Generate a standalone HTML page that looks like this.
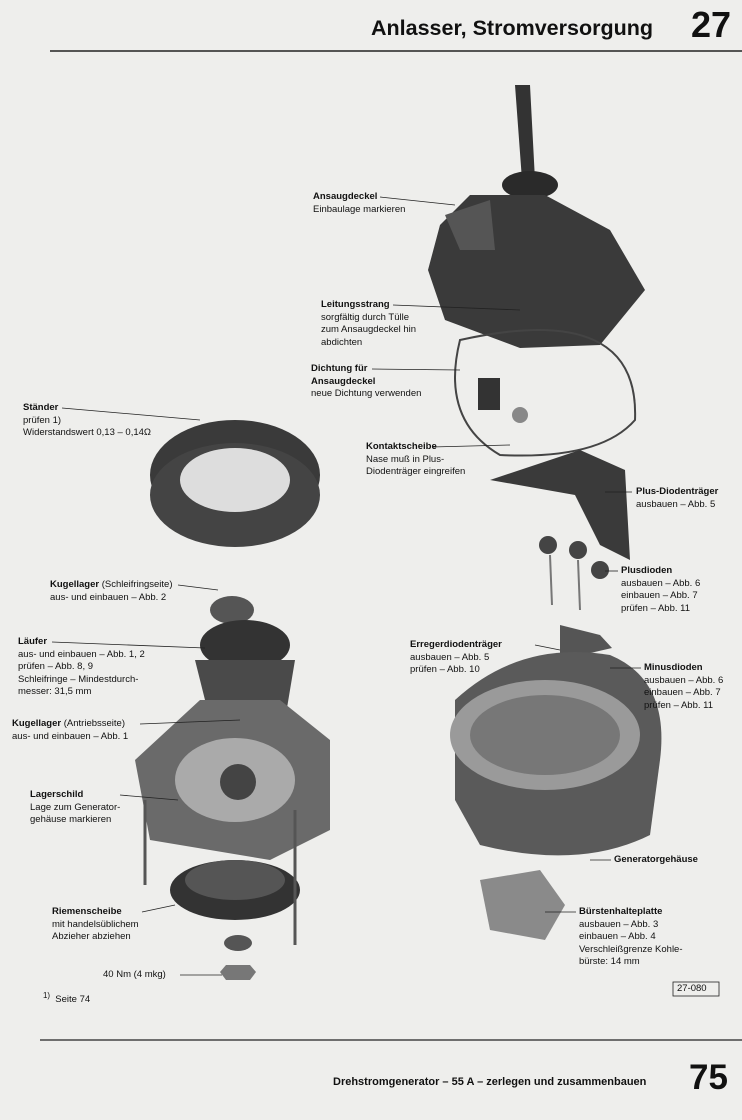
<!DOCTYPE html>
<html><head><meta charset="utf-8"><style>
body{margin:0;width:742px;height:1120px;background:#eeeeec;position:relative;overflow:hidden;font-family:"Liberation Sans",sans-serif;color:#111}
.t{position:absolute;font-size:9.5px;line-height:12.6px;white-space:nowrap}
b{font-weight:bold}
svg{position:absolute;left:0;top:0}
</style></head><body>
<svg width="742" height="1120">
<line x1="50" y1="51" x2="742" y2="51" stroke="#222" stroke-width="1.5"/>
<line x1="40" y1="1040" x2="742" y2="1040" stroke="#222" stroke-width="1.2"/>
<path d="M515 85 L530 85 L535 180 L540 300 L528 300 L522 180 Z" fill="#333"/>
<ellipse cx="530" cy="185" rx="28" ry="14" fill="#2a2a2a"/>
<path d="M440 225 L470 195 L545 195 L610 230 L645 290 L600 345 L520 348 L445 320 L428 270 Z" fill="#3a3a3a"/>
<path d="M445 215 L490 200 L495 250 L460 250 Z" fill="#555"/>
<path d="M460 340 Q640 300 635 420 Q600 460 500 455 Q440 420 460 340 Z" fill="none" stroke="#444" stroke-width="2"/>
<rect x="478" y="378" width="22" height="32" fill="#333"/>
<circle cx="520" cy="415" r="8" fill="#888"/>
<path d="M490 480 L580 450 L625 470 L630 560 L600 545 L575 495 Z" fill="#3a3a3a"/>
<circle cx="548" cy="545" r="9" fill="#444"/><circle cx="578" cy="550" r="9" fill="#444"/><circle cx="600" cy="570" r="9" fill="#444"/>
<line x1="550" y1="555" x2="552" y2="605" stroke="#777" stroke-width="2"/>
<line x1="578" y1="560" x2="580" y2="610" stroke="#777" stroke-width="2"/>
<path d="M560 625 L600 635 L612 648 L560 660 Z" fill="#555"/>
<path d="M455 700 Q520 640 610 655 Q670 680 660 760 L650 835 Q580 870 480 845 L455 800 Z" fill="#5a5a5a"/>
<ellipse cx="545" cy="735" rx="95" ry="55" fill="#9a9a9a"/>
<ellipse cx="545" cy="735" rx="75" ry="40" fill="#777"/>
<path d="M480 880 L540 870 L565 905 L545 940 L490 930 Z" fill="#8a8a8a"/>
<ellipse cx="235" cy="475" rx="85" ry="55" fill="#3a3a3a"/>
<ellipse cx="235" cy="495" rx="85" ry="52" fill="#444"/>
<ellipse cx="235" cy="480" rx="55" ry="32" fill="#ddd"/>
<ellipse cx="232" cy="610" rx="22" ry="14" fill="#555"/>
<ellipse cx="245" cy="645" rx="45" ry="25" fill="#333"/>
<path d="M195 660 L295 660 L285 720 L210 720 Z" fill="#4a4a4a"/>
<line x1="240" y1="700" x2="240" y2="760" stroke="#555" stroke-width="6"/>
<path d="M135 760 L200 700 L280 700 L330 740 L330 830 L270 860 L150 840 Z" fill="#6a6a6a"/>
<ellipse cx="235" cy="780" rx="60" ry="42" fill="#aaa"/>
<circle cx="238" cy="782" r="18" fill="#444"/>
<ellipse cx="235" cy="890" rx="65" ry="30" fill="#333"/>
<ellipse cx="235" cy="880" rx="50" ry="20" fill="#555"/>
<ellipse cx="238" cy="943" rx="14" ry="8" fill="#555"/>
<polygon points="226,965 250,965 256,972 250,980 226,980 220,972" fill="#777"/>
<line x1="145" y1="800" x2="145" y2="885" stroke="#555" stroke-width="3"/>
<line x1="295" y1="810" x2="295" y2="945" stroke="#555" stroke-width="3"/>
<g stroke="#222" stroke-width="0.8">
<line x1="380" y1="197" x2="455" y2="205"/>
<line x1="393" y1="305" x2="520" y2="310"/>
<line x1="372" y1="369" x2="460" y2="370"/>
<line x1="62" y1="408" x2="200" y2="420"/>
<line x1="432" y1="447" x2="510" y2="445"/>
<line x1="605" y1="492" x2="632" y2="492"/>
<line x1="605" y1="571" x2="618" y2="571"/>
<line x1="178" y1="585" x2="218" y2="590"/>
<line x1="52" y1="642" x2="205" y2="648"/>
<line x1="535" y1="645" x2="560" y2="650"/>
<line x1="610" y1="668" x2="641" y2="668"/>
<line x1="140" y1="724" x2="240" y2="720"/>
<line x1="120" y1="795" x2="178" y2="800"/>
<line x1="590" y1="860" x2="611" y2="860"/>
<line x1="142" y1="912" x2="175" y2="905"/>
<line x1="545" y1="912" x2="576" y2="912"/>
<line x1="180" y1="975" x2="222" y2="975"/>
</g>
<rect x="673" y="982" width="46" height="14" fill="none" stroke="#222" stroke-width="0.8"/>
</svg>
<div class="t" style="left:371px;top:14px;font-size:21.5px;line-height:28px;font-weight:bold">Anlasser, Stromversorgung</div>
<div class="t" style="left:691px;top:4px;font-size:36px;line-height:42px;font-weight:bold">27</div>
<div class="t" style="left:313px;top:191px"><b>Ansaugdeckel</b><br>Einbaulage markieren</div>
<div class="t" style="left:321px;top:299px"><b>Leitungsstrang</b><br>sorgfältig durch Tülle<br>zum Ansaugdeckel hin<br>abdichten</div>
<div class="t" style="left:311px;top:363px"><b>Dichtung für<br>Ansaugdeckel</b><br>neue Dichtung verwenden</div>
<div class="t" style="left:23px;top:402px"><b>Ständer</b><br>prüfen 1)<br>Widerstandswert 0,13 – 0,14Ω</div>
<div class="t" style="left:366px;top:441px"><b>Kontaktscheibe</b><br>Nase muß in Plus-<br>Diodenträger eingreifen</div>
<div class="t" style="left:636px;top:486px"><b>Plus-Diodenträger</b><br>ausbauen – Abb. 5</div>
<div class="t" style="left:621px;top:565px"><b>Plusdioden</b><br>ausbauen – Abb. 6<br>einbauen – Abb. 7<br>prüfen – Abb. 11</div>
<div class="t" style="left:50px;top:579px"><b>Kugellager</b> (Schleifringseite)<br>aus- und einbauen – Abb. 2</div>
<div class="t" style="left:18px;top:636px"><b>Läufer</b><br>aus- und einbauen – Abb. 1, 2<br>prüfen – Abb. 8, 9<br>Schleifringe – Mindestdurch-<br>messer: 31,5 mm</div>
<div class="t" style="left:410px;top:639px"><b>Erregerdiodenträger</b><br>ausbauen – Abb. 5<br>prüfen – Abb. 10</div>
<div class="t" style="left:644px;top:662px"><b>Minusdioden</b><br>ausbauen – Abb. 6<br>einbauen – Abb. 7<br>prüfen – Abb. 11</div>
<div class="t" style="left:12px;top:718px"><b>Kugellager</b> (Antriebsseite)<br>aus- und einbauen – Abb. 1</div>
<div class="t" style="left:30px;top:789px"><b>Lagerschild</b><br>Lage zum Generator-<br>gehäuse markieren</div>
<div class="t" style="left:614px;top:854px"><b>Generatorgehäuse</b></div>
<div class="t" style="left:52px;top:906px"><b>Riemenscheibe</b><br>mit handelsüblichem<br>Abzieher abziehen</div>
<div class="t" style="left:579px;top:906px"><b>Bürstenhalteplatte</b><br>ausbauen – Abb. 3<br>einbauen – Abb. 4<br>Verschleißgrenze Kohle-<br>bürste: 14 mm</div>
<div class="t" style="left:103px;top:969px">40 Nm (4 mkg)</div>
<div class="t" style="left:43px;top:990px"><sup>1)</sup>&nbsp; Seite 74</div>
<div class="t" style="left:677px;top:983px">27-080</div>
<div class="t" style="left:333px;top:1076px;font-size:11px;font-weight:bold">Drehstromgenerator – 55 A – zerlegen und zusammenbauen</div>
<div class="t" style="left:689px;top:1057px;font-size:35px;line-height:42px;font-weight:bold">75</div>
</body></html>
